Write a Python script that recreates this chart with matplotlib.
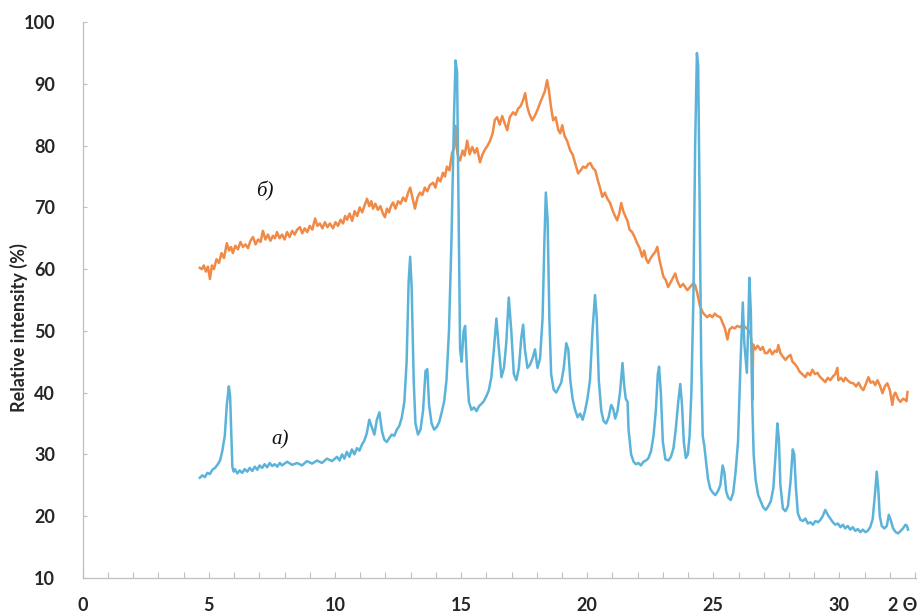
import matplotlib
matplotlib.use("Agg")
import matplotlib.pyplot as plt
from matplotlib.ticker import MultipleLocator

# sample a) - blue pattern (2-theta, relative intensity)
a_theta = [4.64, 4.74, 4.84, 4.94, 5.04, 5.14, 5.24, 5.34, 5.44, 5.53, 5.63, 5.71, 5.79, 5.84, 5.89, 5.93,
           5.98, 6.03, 6.13, 6.22, 6.32, 6.42, 6.52, 6.62, 6.72, 6.82, 6.92, 7.01, 7.11, 7.21, 7.31, 7.41,
           7.51, 7.61, 7.71, 7.81, 7.90, 8.10, 8.30, 8.50, 8.69, 8.89, 9.09, 9.29, 9.48, 9.68, 9.88, 10.08,
           10.18, 10.28, 10.37, 10.47, 10.57, 10.67, 10.77, 10.87, 10.97, 11.07, 11.16, 11.26, 11.36, 11.46,
           11.56, 11.66, 11.76, 11.86, 11.95, 12.05, 12.15, 12.25, 12.35, 12.45, 12.55, 12.65, 12.75, 12.84,
           12.92, 12.98, 13.04, 13.12, 13.19, 13.29, 13.39, 13.49, 13.59, 13.66, 13.73, 13.83, 13.93, 14.03,
           14.13, 14.23, 14.33, 14.42, 14.52, 14.62, 14.72, 14.78, 14.84, 14.90, 14.96, 15.02, 15.10, 15.16,
           15.24, 15.31, 15.41, 15.51, 15.61, 15.71, 15.81, 15.90, 16.00, 16.10, 16.20, 16.30, 16.40, 16.50,
           16.60, 16.70, 16.79, 16.89, 16.99, 17.09, 17.19, 17.29, 17.39, 17.46, 17.53, 17.63, 17.73, 17.83,
           17.93, 18.03, 18.13, 18.23, 18.30, 18.36, 18.43, 18.50, 18.57, 18.67, 18.77, 18.87, 18.97, 19.07,
           19.17, 19.25, 19.33, 19.42, 19.52, 19.62, 19.72, 19.82, 19.91, 20.01, 20.11, 20.21, 20.31, 20.38,
           20.46, 20.56, 20.65, 20.75, 20.85, 20.95, 21.03, 21.11, 21.20, 21.30, 21.40, 21.47, 21.53, 21.60,
           21.64, 21.74, 21.84, 21.93, 22.03, 22.13, 22.23, 22.33, 22.43, 22.53, 22.63, 22.72, 22.80, 22.85,
           22.92, 23.00, 23.10, 23.22, 23.32, 23.42, 23.51, 23.61, 23.69, 23.76, 23.83, 23.91, 23.99, 24.06,
           24.13, 24.21, 24.28, 24.35, 24.40, 24.46, 24.52, 24.58, 24.64, 24.71, 24.79, 24.88, 24.98, 25.08,
           25.18, 25.28, 25.37, 25.44, 25.51, 25.59, 25.69, 25.79, 25.88, 25.98, 26.08, 26.17, 26.23, 26.33,
           26.38, 26.43, 26.49, 26.54, 26.60, 26.68, 26.78, 26.88, 26.98, 27.08, 27.18, 27.28, 27.38, 27.47,
           27.54, 27.60, 27.66, 27.76, 27.86, 27.96, 28.06, 28.15, 28.21, 28.27, 28.35, 28.45, 28.55, 28.65,
           28.75, 28.85, 28.95, 29.05, 29.15, 29.25, 29.34, 29.44, 29.54, 29.64, 29.74, 29.84, 29.94, 30.04,
           30.14, 30.23, 30.33, 30.43, 30.53, 30.63, 30.73, 30.83, 30.93, 31.03, 31.12, 31.22, 31.32, 31.42,
           31.48, 31.54, 31.60, 31.68, 31.78, 31.88, 31.96, 32.03, 32.13, 32.23, 32.33, 32.43, 32.52, 32.62,
           32.68, 32.72]
a_int = [26.2, 26.6, 26.3, 27.0, 26.8, 27.5, 27.8, 28.3, 29.0, 30.5, 33.0, 38.0, 41.0, 39.5, 33.0, 28.0,
         27.2, 27.6, 26.9, 27.4, 27.0, 27.6, 27.2, 27.8, 27.3, 28.0, 27.5, 28.2, 27.8, 28.4, 27.9, 28.6,
         28.1, 28.4, 28.0, 28.6, 28.2, 28.8, 28.3, 28.6, 28.2, 28.9, 28.5, 29.0, 28.6, 29.3, 28.9, 29.6,
         29.0, 30.0, 29.3, 30.4, 29.6, 30.8, 30.0, 31.0, 30.6, 31.6, 32.2, 33.4, 35.6, 34.4,
         33.2, 35.6, 36.8, 33.8, 32.4, 32.0, 32.6, 33.2, 33.0, 34.0, 34.6, 36.0, 38.5, 45.0,
         58.0, 62.0, 57.0, 42.0, 35.0, 33.2, 34.0, 37.0, 43.5, 43.8, 38.0, 35.0, 34.0, 34.4,
         35.2, 36.8, 38.6, 42.0, 50.0, 65.0, 85.0, 93.8, 92.0, 70.0, 47.0, 45.0, 50.0, 50.8,
         43.0, 38.5, 37.2, 37.6, 37.0, 37.8, 38.2, 38.6, 39.4, 40.4, 42.5, 47.0, 52.0, 47.0,
         42.5, 44.0, 48.0, 55.4, 50.0, 43.0, 42.0, 44.0, 49.0, 51.0, 47.0, 44.0, 44.5, 45.5,
         47.0, 44.0, 45.5, 52.0, 64.0, 72.4, 68.0, 52.0, 43.0, 40.5, 40.0, 40.8, 41.6, 44.0,
         48.0, 47.0, 42.0, 39.0, 37.2, 36.0, 36.6, 35.6, 37.0, 39.0, 42.0, 50.0, 55.8, 52.0,
         42.0, 37.0, 35.4, 35.0, 36.0, 38.0, 37.4, 35.8, 37.0, 40.0, 44.8, 41.0, 39.0, 38.5,
         34.0, 30.0, 28.8, 28.4, 28.6, 28.2, 28.8, 29.0, 29.4, 30.5, 33.0, 37.0, 43.0, 44.2,
         40.0, 32.0, 29.2, 29.0, 29.6, 31.0, 34.0, 38.5, 41.4, 38.0, 32.0, 29.4, 30.0, 33.0,
         40.0, 55.0, 80.0, 95.0, 93.0, 70.0, 45.0, 33.0, 31.5, 29.0, 26.0, 24.4, 23.8, 23.4,
         24.0, 25.0, 28.2, 27.0, 24.0, 23.0, 22.6, 23.8, 27.0, 32.0, 45.0, 54.6, 48.0, 43.2,
         50.0, 58.6, 53.0, 39.0, 30.0, 25.8, 23.4, 22.4, 21.4, 21.0, 21.6, 22.4, 24.5, 30.0,
         35.0, 32.5, 25.0, 21.2, 20.8, 21.6, 25.5, 30.8, 30.0, 25.0, 20.5, 19.4, 19.2, 19.6,
         18.8, 19.0, 18.6, 19.2, 19.0, 19.4, 20.0, 21.0, 20.2, 19.6, 19.0, 18.6, 18.8, 18.2,
         18.6, 18.0, 18.4, 17.8, 18.2, 17.6, 17.9, 17.4, 17.8, 17.4, 17.6, 18.2, 19.5, 24.0,
         27.2, 24.5, 20.0, 18.4, 18.0, 18.4, 20.2, 19.4, 18.0, 17.4, 17.2, 17.6, 18.0, 18.6,
         18.4, 17.8]

# sample b) - orange pattern
b_theta = [4.64, 4.72, 4.80, 4.88, 4.96, 5.04, 5.12, 5.20, 5.30, 5.40, 5.50, 5.60, 5.71, 5.80, 5.88, 5.95,
           6.05, 6.15, 6.25, 6.35, 6.45, 6.55, 6.65, 6.75, 6.85, 6.95, 7.05, 7.14, 7.24, 7.34, 7.44, 7.54,
           7.62, 7.70, 7.80, 7.90, 8.00, 8.10, 8.20, 8.30, 8.40, 8.50, 8.61, 8.70, 8.80, 8.90, 9.00, 9.10,
           9.21, 9.30, 9.40, 9.50, 9.60, 9.70, 9.80, 9.92, 10.02, 10.12, 10.22, 10.32, 10.40, 10.48, 10.58,
           10.68, 10.78, 10.88, 10.98, 11.08, 11.18, 11.27, 11.36, 11.44, 11.51, 11.60, 11.70, 11.80, 11.90,
           11.98, 12.06, 12.14, 12.22, 12.30, 12.40, 12.50, 12.60, 12.70, 12.80, 12.90, 12.98, 13.06, 13.17,
           13.27, 13.37, 13.46, 13.56, 13.66, 13.76, 13.89, 13.98, 14.08, 14.18, 14.28, 14.36, 14.44, 14.54,
           14.64, 14.72, 14.78, 14.84, 14.90, 14.96, 15.06, 15.14, 15.24, 15.34, 15.44, 15.54, 15.63, 15.75,
           15.85, 15.95, 16.05, 16.15, 16.25, 16.34, 16.43, 16.53, 16.63, 16.73, 16.83, 16.93, 17.06, 17.16,
           17.26, 17.36, 17.46, 17.54, 17.62, 17.70, 17.82, 17.92, 18.02, 18.12, 18.22, 18.32, 18.41, 18.48,
           18.56, 18.65, 18.75, 18.85, 18.93, 19.01, 19.10, 19.20, 19.33, 19.42, 19.52, 19.64, 19.74, 19.84,
           19.94, 20.04, 20.12, 20.22, 20.32, 20.42, 20.52, 20.60, 20.70, 20.80, 20.91, 21.00, 21.10, 21.19,
           21.27, 21.35, 21.43, 21.51, 21.59, 21.68, 21.78, 21.88, 21.98, 22.08, 22.18, 22.26, 22.34, 22.42,
           22.52, 22.62, 22.70, 22.78, 22.86, 22.94, 23.02, 23.12, 23.21, 23.30, 23.40, 23.49, 23.58, 23.69,
           23.80, 23.90, 23.97, 24.06, 24.14, 24.21, 24.28, 24.36, 24.42, 24.48, 24.58, 24.66, 24.76, 24.86,
           24.96, 25.06, 25.16, 25.28, 25.38, 25.46, 25.56, 25.64, 25.75, 25.85, 25.95, 26.07, 26.17, 26.27,
           26.38, 26.47, 26.53, 26.55, 26.58, 26.66, 26.76, 26.87, 26.96, 27.05, 27.14, 27.24, 27.34, 27.44,
           27.52, 27.58, 27.66, 27.76, 27.86, 27.96, 28.06, 28.14, 28.24, 28.33, 28.42, 28.52, 28.65, 28.74,
           28.84, 28.93, 29.03, 29.13, 29.22, 29.32, 29.44, 29.54, 29.64, 29.74, 29.84, 29.92, 29.96, 30.06,
           30.16, 30.24, 30.32, 30.44, 30.56, 30.66, 30.76, 30.86, 30.95, 31.05, 31.15, 31.24, 31.34, 31.42,
           31.51, 31.60, 31.71, 31.80, 31.90, 32.00, 32.10, 32.16, 32.22, 32.32, 32.42, 32.52, 32.62, 32.66,
           32.70]
b_int = [60.2, 60.0, 60.6, 59.6, 60.4, 58.4, 60.6, 60.0, 61.6, 61.0, 62.6, 61.8, 64.2, 63.0, 63.6, 62.6,
         63.8, 63.2, 64.4, 63.6, 64.0, 63.4, 64.6, 65.2, 64.0, 64.8, 64.4, 66.2, 64.8, 65.6, 64.6, 65.4,
         65.0, 66.0, 65.0, 65.6, 64.8, 66.0, 65.2, 66.2, 65.6, 66.4, 66.8, 65.8, 66.6, 66.0, 67.0, 66.4,
         68.2, 67.0, 67.4, 66.6, 67.6, 66.8, 67.4, 66.6, 67.6, 67.0, 68.0, 67.4, 68.6, 68.0, 69.0,
         67.8, 69.4, 68.6, 70.0, 69.2, 70.4, 71.4, 70.2, 71.0, 69.8, 70.6, 69.6, 70.2, 69.0,
         68.4, 69.8, 69.2, 70.2, 70.8, 69.8, 71.0, 70.6, 71.6, 71.0, 72.4, 73.2, 71.8, 69.8,
         71.6, 72.4, 72.0, 73.2, 72.6, 73.6, 74.0, 73.2, 74.8, 74.2, 75.6, 75.0, 76.6, 76.0,
         78.8, 79.6, 83.2, 79.2, 77.8, 77.6, 79.2, 78.4, 80.8, 78.6, 79.8, 78.8, 79.6, 77.3,
         78.6, 79.4, 80.0, 80.8, 82.0, 84.2, 84.6, 83.4, 84.8, 83.6, 82.5, 84.6, 85.4, 85.0,
         86.0, 86.4, 87.4, 88.5, 86.4, 85.2, 84.1, 84.8, 85.7, 86.8, 87.8, 88.8, 90.6, 89.0,
         86.4, 84.1, 84.6, 82.6, 82.0, 83.3, 81.6, 80.8, 79.2, 78.6, 77.2, 75.5, 76.0, 76.6,
         76.4, 77.0, 77.2, 76.4, 76.0, 74.4, 73.0, 71.7, 72.4, 71.4, 70.7, 69.6, 68.6, 67.9,
         69.0, 70.7, 69.4, 68.6, 67.9, 66.4, 66.0, 65.2, 64.2, 63.4, 62.0, 63.0, 61.6, 61.0,
         61.8, 62.4, 62.8, 63.6, 61.6, 60.2, 58.8, 58.2, 57.1, 57.8, 58.6, 59.3, 58.0, 57.1,
         57.6, 57.0, 56.6, 57.0, 57.4, 57.7, 57.4, 56.2, 55.0, 53.9, 53.0, 52.6, 52.2, 52.6,
         52.2, 52.8, 52.4, 52.2, 51.2, 50.4, 48.6, 50.2, 50.6, 50.4, 50.8, 50.6, 51.0, 50.6,
         50.2, 49.6, 47.6, 38.8, 47.8, 47.0, 47.6, 46.9, 47.4, 46.4, 46.4, 47.0, 46.2, 46.8,
         46.6, 47.7, 46.4, 45.8, 45.3, 45.8, 46.1, 45.0, 44.6, 44.1, 43.4, 43.0, 42.5, 43.2,
         42.8, 43.7, 43.0, 43.2, 42.6, 42.2, 41.7, 42.4, 42.0, 42.6, 43.0, 44.0, 42.0, 42.4,
         41.8, 42.4, 42.0, 41.6, 41.5, 41.0, 41.6, 40.8, 40.4, 41.4, 42.5, 41.6, 41.8, 41.2,
         42.0, 41.2, 39.9, 41.0, 41.5, 40.4, 38.0, 39.6, 40.0, 39.0, 38.5, 39.0, 38.8, 38.6,
         40.1]

x_major = [0, 5, 10, 15, 20, 25, 30]
y_major = [10, 20, 30, 40, 50, 60, 70, 80, 90, 100]

blue = "#5BB3DA"
orange = "#EF8A47"
axis_grey = "#BFBFBF"
text_col = "#262626"

fig = plt.figure(figsize=(9.2, 6.16), dpi=100)
ax = fig.add_axes([0.090, 0.062, 0.906, 0.902])

ax.plot(b_theta, b_int, color=orange, lw=1.8, zorder=2)
ax.plot(a_theta, a_int, color=blue, lw=1.8, zorder=3)

ax.set_xlim(0, 33.05)
ax.set_ylim(10, 100)
ax.set_xticks(x_major)
ax.set_yticks(y_major)
ax.xaxis.set_minor_locator(MultipleLocator(1))

for s in ["top", "right"]:
    ax.spines[s].set_visible(False)
for s in ["left", "bottom"]:
    ax.spines[s].set_color(axis_grey)
    ax.spines[s].set_linewidth(0.9)

ax.tick_params(axis="x", which="both", direction="in", length=4, width=0.8,
               color=axis_grey, pad=14)
ax.tick_params(axis="y", which="major", direction="in", length=3, width=0.8,
               color=axis_grey, pad=20)
for lab in ax.get_xticklabels() + ax.get_yticklabels():
    lab.set_family("Lato")
    lab.set_fontweight("bold")
    lab.set_fontsize(13)
    lab.set_color(text_col)

ax.set_ylabel("Relative intensity (%)", family="Lato", fontsize=13,
              fontweight="bold", color=text_col)
ax.yaxis.set_label_coords(-0.066, 0.45)

ax.text(0.984, -0.049, "2 \u0398", transform=ax.transAxes, ha="center", va="center",
        family="Lato", fontweight="bold", fontsize=13, color=text_col)

ax.text(7.22, 72.5, "б)", family="Liberation Serif", style="italic", fontsize=15,
        ha="center", va="center", color="#111111")
ax.text(7.82, 32.3, "а)", family="Liberation Serif", style="italic", fontsize=15,
        ha="center", va="center", color="#111111")

fig.savefig("out.png", dpi=100)
